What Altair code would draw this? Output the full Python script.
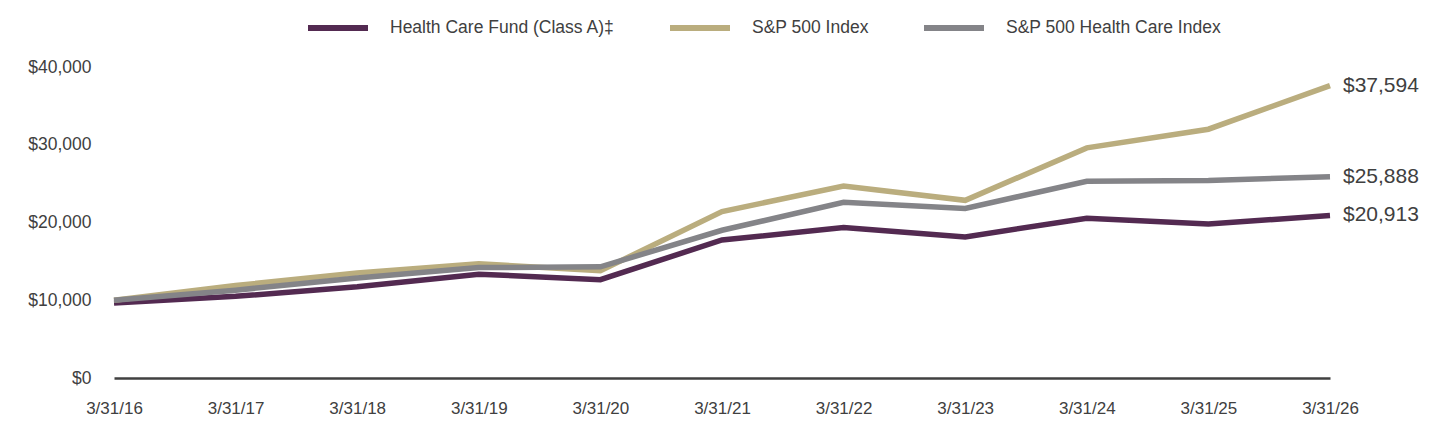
import altair as alt
import pandas as pd

dates = ["3/31/16", "3/31/17", "3/31/18", "3/31/19", "3/31/20", "3/31/21",
         "3/31/22", "3/31/23", "3/31/24", "3/31/25", "3/31/26"]
fund = [9650, 10500, 11750, 13350, 12650, 17750, 19350, 18150, 20550, 19800, 20913]
sp500 = [10000, 11900, 13500, 14700, 13800, 21400, 24700, 22850, 29600, 32000, 37594]
hc_index = [10000, 11300, 12850, 14200, 14300, 19000, 22600, 21800, 25300, 25400, 25888]

series_names = ["Health Care Fund (Class A)‡", "S&P 500 Index", "S&P 500 Health Care Index"]
series_colors = ["#532a51", "#baad7e", "#848488"]
y_ticks = [0, 10000, 20000, 30000, 40000]

rows = []
for name, vals in zip(series_names, [fund, sp500, hc_index]):
    for i, (d, v) in enumerate(zip(dates, vals)):
        rows.append({"date": d, "value": v, "series": name, "order": i})
df = pd.DataFrame(rows)
last = df[df["date"] == dates[-1]]

REG = "Liberation Sans, Arial, sans-serif"
TXT = "#404040"

x_enc = alt.X("date:O", sort=dates,
              scale=alt.Scale(type="point", padding=0),
              axis=alt.Axis(title=None, labelAngle=0, ticks=False, domain=True,
                            domainColor=TXT, domainWidth=2.5, labelPadding=22,
                            labelFont=REG, labelFontSize=17, labelColor=TXT,
                            grid=False))
y_enc = alt.Y("value:Q", scale=alt.Scale(domain=[0, 40000], nice=False),
              axis=alt.Axis(title=None, values=y_ticks, format="$,.0f", ticks=False,
                            domain=False, grid=False, labelPadding=23,
                            labelFont=REG, labelFontSize=17.5, labelColor=TXT))
color_enc = alt.Color("series:N",
                      scale=alt.Scale(domain=series_names, range=series_colors),
                      legend=alt.Legend(title=None, orient="none", direction="horizontal",
                                        legendX=191, legendY=-72,
                                        symbolType="stroke", symbolStrokeWidth=6,
                                        symbolSize=3600, labelOffset=19,
                                        columnPadding=43, labelFont=REG,
                                        labelFontSize=17.5, labelColor=TXT,
                                        labelLimit=400))

lines = alt.Chart(df).mark_line(strokeWidth=5.5, strokeCap="butt", strokeJoin="miter").encode(
    x=x_enc, y=y_enc, color=color_enc, order="order:Q"
)

labels = alt.Chart(last).mark_text(align="left", baseline="middle", dx=13,
                                   font=REG, fontSize=21, color=TXT).encode(
    x=alt.X("date:O", sort=dates), y="value:Q",
    text=alt.Text("value:Q", format="$,.0f")
)

chart = alt.layer(lines, labels).properties(
    width=1216, height=311,
    autosize=alt.AutoSizeParams(type="none"),
    padding={"left": 114, "top": 67, "right": 110, "bottom": 66},
    background="white"
).configure_view(stroke=None)

chart.save("out.html", embed_options={"renderer": "svg", "actions": False})
